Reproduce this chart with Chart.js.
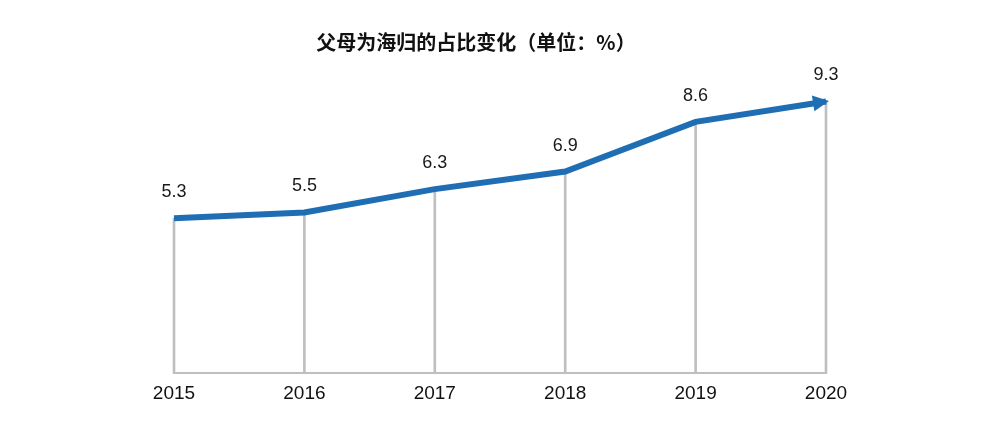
<!DOCTYPE html>
<html>
<head>
<meta charset="utf-8">
<script src="https://cdn.jsdelivr.net/npm/chart.js@4.4.1/dist/chart.umd.min.js"></script>
<style>
  html, body { margin: 0; padding: 0; background: #fff; }
  #wrap { width: 984px; height: 435px; position: relative; }
</style>
</head>
<body>
<div id="wrap"><canvas id="c"></canvas></div>
<script>
  var years = ['2015', '2016', '2017', '2018', '2019', '2020'];
  var share = [5.3, 5.5, 6.3, 6.9, 8.6, 9.3];
  var titleText = '父母为海归的占比变化（单位：%）';

  var lineColor = '#1F6EB4';
  var dropColor = '#BFBFBF';

  // title, value labels and the arrow head on the last point
  var decor = {
    id: 'decor',
    afterDatasetsDraw: function (chart) {
      var ctx = chart.ctx;
      var meta = chart.getDatasetMeta(0);
      var pts = meta.data;

      // arrow head
      var a = pts[pts.length - 2], b = pts[pts.length - 1];
      var ang = Math.atan2(b.y - a.y, b.x - a.x);
      var tipX = b.x + 3 * Math.cos(ang), tipY = b.y + 3 * Math.sin(ang);
      var len = 16, half = 8;
      var bx = tipX - len * Math.cos(ang), by = tipY - len * Math.sin(ang);
      ctx.save();
      ctx.fillStyle = lineColor;
      ctx.beginPath();
      ctx.moveTo(tipX, tipY);
      ctx.lineTo(bx + half * Math.sin(ang), by - half * Math.cos(ang));
      ctx.lineTo(bx - half * Math.sin(ang), by + half * Math.cos(ang));
      ctx.closePath();
      ctx.fill();

      // value labels
      ctx.fillStyle = '#1a1a1a';
      ctx.font = '18px "Liberation Sans", Arial, sans-serif';
      ctx.textAlign = 'center';
      ctx.textBaseline = 'middle';
      pts.forEach(function (p, i) {
        ctx.fillText(share[i].toFixed(1), p.x, p.y - 26);
      });

      // title
      ctx.fillStyle = '#111';
      ctx.font = 'bold 20px "Noto Sans CJK SC", sans-serif';
      ctx.fillText(titleText, 476, 42);
      ctx.restore();
    }
  };

  new Chart(document.getElementById('c'), {
    type: 'line',
    data: {
      labels: years,
      datasets: [
        {
          type: 'line',
          data: share,
          borderColor: lineColor,
          borderWidth: 6,
          pointRadius: 0,
          tension: 0,
          fill: false,
          order: 0,
          clip: false
        },
        {
          type: 'bar',
          data: share,
          backgroundColor: dropColor,
          barThickness: 2,
          order: 1,
          clip: false
        }
      ]
    },
    options: {
      responsive: true,
      maintainAspectRatio: false,
      animation: false,
      layout: { padding: { left: 174, right: 158, top: 81, bottom: 29 } },
      plugins: {
        legend: { display: false },
        tooltip: { enabled: false },
        title: { display: false }
      },
      scales: {
        x: {
          offset: false,
          grid: { display: false, offset: false },
          border: { display: true, color: dropColor, width: 2 },
          ticks: {
            color: '#111',
            padding: 1,
            maxRotation: 0,
            font: { size: 19, family: '"Liberation Sans", Arial, sans-serif' }
          }
        },
        y: {
          display: false,
          min: 0,
          max: 10
        }
      }
    },
    plugins: [decor]
  });
</script>
</body>
</html>
